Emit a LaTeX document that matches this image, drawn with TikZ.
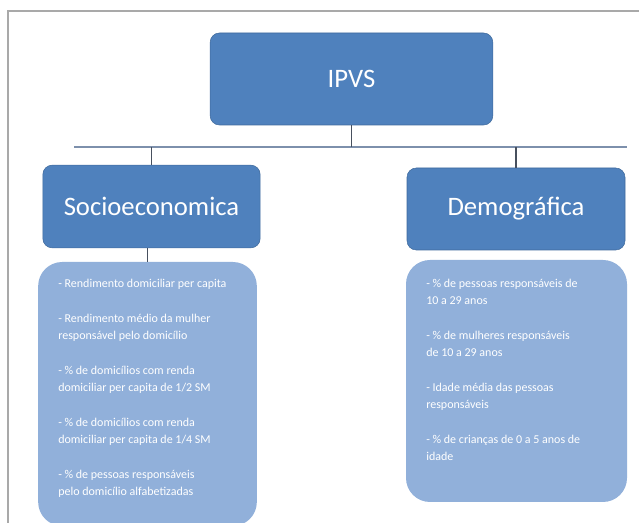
\documentclass[tikz,border=0pt]{standalone}
\usepackage{fontspec}
\setmainfont{Carlito}
\definecolor{headFill}{HTML}{4F81BD}
\definecolor{headLine}{HTML}{3F6A9C}
\definecolor{listFill}{HTML}{91B0DA}
\definecolor{linkGray}{HTML}{47505E}
\definecolor{busGray}{HTML}{7D90AC}
\definecolor{frameGray}{HTML}{A9A9A9}

\tikzset{headbox/.style={draw=headLine, fill=headFill, rounded corners=7pt, text=white,
    font=\fontsize{20}{24}\selectfont, inner sep=0pt},
  listbox/.style={fill=listFill, rounded corners=18pt, inner sep=0pt},
  listtext/.style={text=white, align=left, anchor=north west, inner sep=0pt,
    font=\fontsize{9}{13}\selectfont},
  link/.style={draw=linkGray, line width=0.8pt},
  bus/.style={draw=busGray, line width=2pt}}

\begin{document}
\begin{tikzpicture}[x=0.75pt,y=-0.75pt]
\useasboundingbox (0,0) rectangle (639,523);
\clip (0,0) rectangle (639,523);
\draw[frameGray, line width=0.9pt] (8,523) -- (8,11) -- (639,11);

\node[headbox, minimum width=212pt, minimum height=69pt] (ipvs) at (351.5,79) {IPVS};
\node[headbox, minimum width=163pt, minimum height=62pt] (socio) at (151.5,206.5) {Socioeconomica};
\node[headbox, minimum width=163.5pt, minimum height=61.5pt] (demo) at (516,209) {Demográfica};

\node[listbox, minimum width=164pt, minimum height=198pt] (socList) at (147.5,394) {};
\node[listbox, minimum width=165.75pt, minimum height=181.5pt] (demoList) at (516.5,381) {};

\node[listtext] (socItems) at (58,279) {- Rendimento domiciliar per capita\\ \\
  - Rendimento médio da mulher\\ responsável pelo domicílio\\ \\
  - \% de domicílios com renda\\ domiciliar per capita de 1/2 SM\\ \\
  - \% de domicílios com renda\\ domiciliar per capita de 1/4 SM\\ \\
  - \% de pessoas responsáveis\\ pelo domicílio alfabetizadas};
\node[listtext] (demoItems) at (426,279) {- \% de pessoas responsáveis de\\ 10 a 29 anos\\ \\
  - \% de mulheres responsáveis\\ de 10 a 29 anos\\ \\
  - Idade média das pessoas\\ responsáveis\\ \\
  - \% de crianças de 0 a 5 anos de\\ idade};

% bus
\coordinate (busL) at (74,147);
\coordinate (busR) at (627,147);
\draw[bus] (busL) -- (busR);
\draw[link] (ipvs.south) -- (ipvs.south |- busL);
\draw[link] (socio.north |- busL) -- (socio.north);
\draw[link] (demo.north |- busL) -- (demo.north);
\draw[link] (socList.north |- socio.south) -- (socList.north);

\end{tikzpicture}
\end{document}
